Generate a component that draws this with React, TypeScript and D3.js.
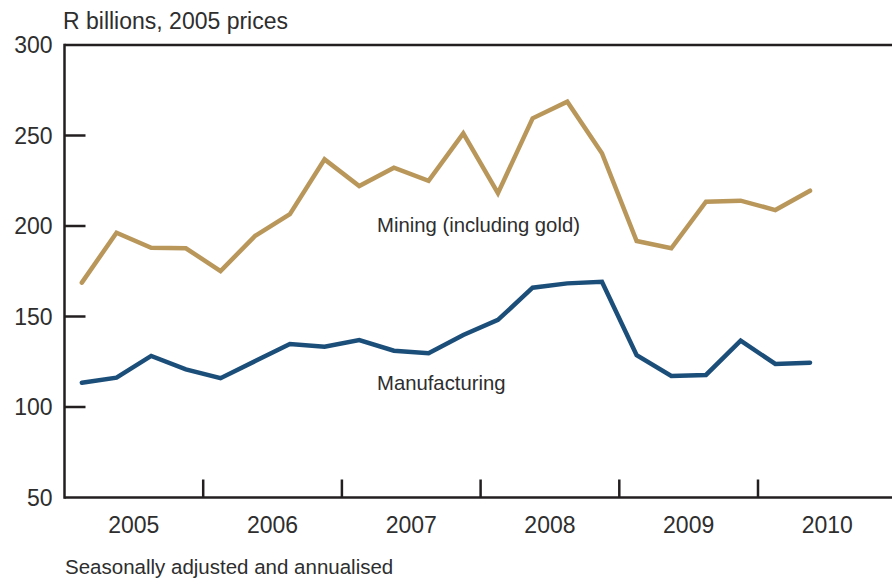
import React from "react";
import * as d3 from "d3";

// Quarterly values, R billions at 2005 prices (2005 Q1 .. 2010 Q2)
const quarters = [
  "2005Q1", "2005Q2", "2005Q3", "2005Q4",
  "2006Q1", "2006Q2", "2006Q3", "2006Q4",
  "2007Q1", "2007Q2", "2007Q3", "2007Q4",
  "2008Q1", "2008Q2", "2008Q3", "2008Q4",
  "2009Q1", "2009Q2", "2009Q3", "2009Q4",
  "2010Q1", "2010Q2"
];
const mining = [
  168.7, 196.3, 188, 187.7, 175.1, 194.6, 206.5, 236.8, 222.1, 232.2, 225,
  251.2, 218.1, 259.5, 268.7, 240.2, 191.7, 187.7, 213.4, 214, 208.8, 219.5
];
const manufacturing = [
  113.4, 116.2, 128.2, 120.8, 115.9, 125.4, 134.8, 133.3, 137, 131.1, 129.7,
  139.8, 148.1, 165.9, 168.3, 169.2, 128.6, 117.1, 117.7, 136.6, 123.8, 124.5
];
const years = [2005, 2006, 2007, 2008, 2009, 2010];
const yTicks = [50, 100, 150, 200, 250, 300];

const W = 892;
const H = 578;
const font = "'Liberation Sans', Arial, Helvetica, sans-serif";
const textColor = "#2e2e2e";
const gold = "#b9975b";
const blue = "#1c4e7a";

export default function App() {
  const left = 64.5;
  const top = 45;
  const bottom = 497.5;
  const yearWidth = 138.7;

  // x as fractional year (2005 = start of 2005)
  const x = d3.scaleLinear().domain([2005, 2011]).range([left, left + 6 * yearWidth]);
  const y = d3.scaleLinear().domain([50, 300]).range([bottom, top]);

  const qPos = (q: string) => {
    const yr = +q.slice(0, 4);
    const n = +q.slice(5);
    return yr + (n - 0.5) / 4;
  };

  const line = d3
    .line<number>()
    .x((_, i) => x(qPos(quarters[i])))
    .y((d) => y(d));

  const tickYears = years.slice(1);

  return (
    <svg
      width={W}
      height={H}
      style={{ display: "block", position: "absolute", left: 0, top: 0, background: "#fff" }}
      fontFamily={font}
    >
      {/* frame: left axis, top line, bottom axis */}
      <line x1={left} y1={top} x2={W} y2={top} stroke="#231f20" strokeWidth={2.5} />
      <line x1={left} y1={top - 1.2} x2={left} y2={bottom + 1.2} stroke="#231f20" strokeWidth={2.5} />
      <line x1={left} y1={bottom} x2={W} y2={bottom} stroke="#231f20" strokeWidth={2.5} />

      {/* y ticks */}
      {yTicks.map((t) => (
        <g key={t}>
          {t !== 300 && t !== 50 && (
            <line x1={left} x2={left + 21} y1={y(t)} y2={y(t)} stroke="#231f20" strokeWidth={2.5} />
          )}
          <text
            x={52.5}
            y={y(t)}
            dy="0.36em"
            textAnchor="end"
            fontSize={23}
            fill={textColor}
          >
            {t}
          </text>
        </g>
      ))}

      {/* x ticks at year boundaries */}
      {tickYears.map((yr) => (
        <line key={yr} x1={x(yr)} x2={x(yr)} y1={bottom} y2={bottom - 18} stroke="#231f20" strokeWidth={2.5} />
      ))}
      {years.map((yr) => (
        <text key={yr} x={x(yr + 0.5)} y={533} textAnchor="middle" fontSize={23} fill={textColor}>
          {yr}
        </text>
      ))}

      {/* series */}
      <path d={line(mining) || ""} fill="none" stroke={gold} strokeWidth={4.5} strokeLinejoin="miter" strokeLinecap="round" />
      <path d={line(manufacturing) || ""} fill="none" stroke={blue} strokeWidth={4.5} strokeLinejoin="miter" strokeLinecap="round" />

      {/* labels */}
      <text x={63} y={29} fontSize={23} fill={textColor}>
        R billions, 2005 prices
      </text>
      <text x={377} y={232} fontSize={20.3} fill={textColor}>
        Mining (including gold)
      </text>
      <text x={377} y={390} fontSize={20.3} fill={textColor}>
        Manufacturing
      </text>
      <text x={65} y={574} fontSize={20.5} fill={textColor}>
        Seasonally adjusted and annualised
      </text>
    </svg>
  );
}
